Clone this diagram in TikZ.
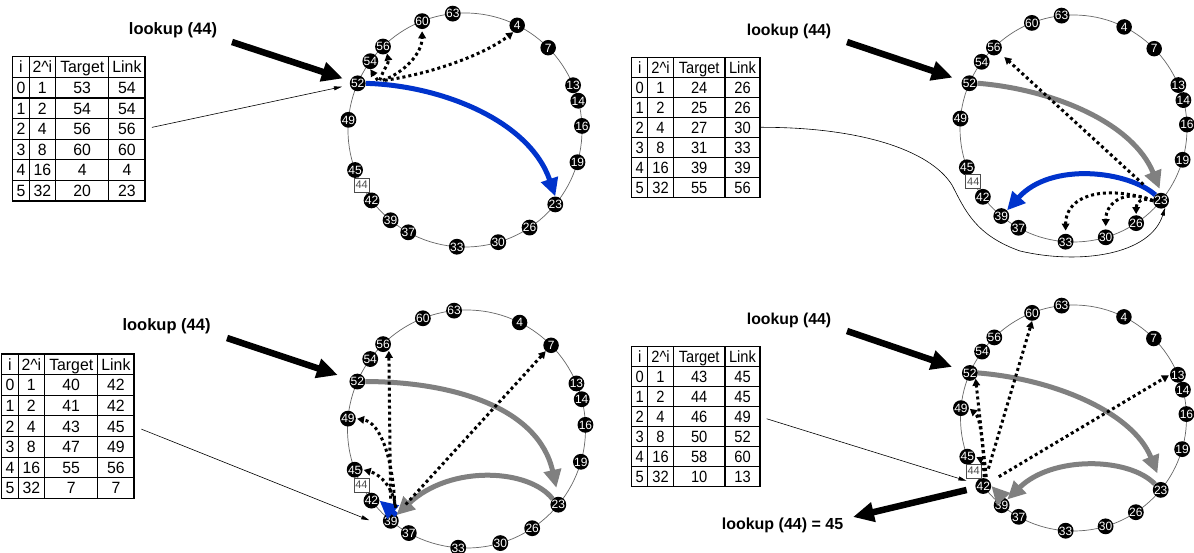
\documentclass[tikz,border=0pt]{standalone}
\usepackage{fontspec}
\setmainfont{Liberation Sans}
\newfontfamily\tabwide[FakeStretch=0.97]{Liberation Sans}
\newfontfamily\tabnarrow[FakeStretch=0.9]{Liberation Sans}
\usetikzlibrary{arrows.meta,calc}
\definecolor{hopblue}{RGB}{0,51,204}
\definecolor{hopgray}{RGB}{128,128,128}
\newcommand\fsz[1]{\fontsize{#1}{#1}\selectfont}

\tikzset{
  ringline/.style={draw=black!60, line width=0.7pt},
  peer/.style={circle, fill=black, inner sep=0pt, minimum size=15.5pt, text=white,
    font=\fsz{12}, text height=8.6pt, text depth=0pt},
  keybox/.style={draw=black!70, fill=white, text=black!70, inner sep=0pt,
    minimum width=15pt, minimum height=14pt, font=\fsz{11}, line width=0.6pt},
  tabline/.style={line width=1.2pt},
  finger/.style={line width=3pt, dash pattern=on 3pt off 3pt,
    -{Triangle[length=7pt,width=7.5pt]}},
  route/.style={line width=5pt, -{Triangle[length=18pt,width=17pt]}},
  pointer/.style={line width=0.6pt, -{Triangle[length=8pt,width=4pt]}},
  lookup/.style={line width=6.5pt, -{Triangle[length=21pt,width=19pt]}},
  lookuplabel/.style={font=\bfseries\fsz{16.5}, inner sep=0pt},
}

% Chord ring: #1 name prefix, #2/#3 centre, #4 radius
\newcommand\chordring[4]{%
  \draw[ringline] (#2,#3) circle[radius=#4];
  \foreach \id/\ang in {63/96, 60/111.5, 4/63.5, 7/44.7, 13/22.5, 14/14.5, 16/2,
      19/-16, 23/-39.5, 26/-56.5, 30/-73.5, 33/-94, 37/-119, 39/-129.5, 42/-143,
      45/-160, 49/175, 52/156.5, 54/144, 56/134.5}
    \node[peer] (#1\id) at ({#2+#4*cos(\ang)},{#3-#4*sin(\ang)}) {\id};
  \node[keybox] (#1k44) at ({#2+#4*cos(-152)},{#3+#4*sin(152)}) {44};
}

% Finger table: #1 name, #2/#3 top left corner, #4 scale, #5 font command, #6 target/link rows
\newcommand\fingertable[6]{%
  \begin{scope}[shift={(#2,#3)}, scale=#4,
      every node/.style={font=#5\fsz{16.3}, inner sep=0pt, text height=11.7pt, text depth=0pt}]
    \draw[tabline] (0,0) rectangle (128.3,140);
    \foreach \cx in {16,41.6,93.3} \draw[tabline] (\cx,0) -- (\cx,140);
    \foreach \ry in {20,40,60,80,100,120} \draw[tabline] (0,\ry) -- (128.3,\ry);
    \node (#1-hi) at (8,10) {i};
    \node (#1-hp) at (28.8,10) {2\textasciicircum i};
    \node (#1-ht) at (67.45,10) {Target};
    \node (#1-hl) at (110.8,10) {Link};
    \foreach \tg/\lk [count=\rw from 0] in {#6} {
      \pgfmathtruncatemacro\pw{2^\rw}
      \node (#1-i\rw) at (8,30+20*\rw) {\rw};
      \node (#1-p\rw) at (28.8,30+20*\rw) {\pw};
      \node (#1-t\rw) at (67.45,30+20*\rw) {\tg};
      \node (#1-l\rw) at (110.8,30+20*\rw) {\lk};
    }
    \coordinate (#1-out) at (128.3,70);
  \end{scope}}

\begin{document}
\begin{tikzpicture}[x=1pt,y=-1pt]
\path[fill=white] (0,0) rectangle (1194,553);
\useasboundingbox (0,0) rectangle (1194,553);

% ---------------- step 1: node 52 ----------------
\chordring{a}{465}{130}{117}
\fingertable{a}{12.7}{56.7}{1.031}{\tabwide}{53/54,54/54,56/56,60/60,4/4,20/23}
\node[lookuplabel] (a-lbl) at (173,30) {lookup (44)};
\coordinate (a-src) at (232,42);
\draw[lookup, shorten >=7.6pt] (a-src) -- (a52);
\draw[pointer, shorten <=7pt, shorten >=8pt] (a-out) -- (a52);
\draw[route, hopblue] (a52.east) .. controls +(75,2) and +(-26,-76) .. (a23.north);
\draw[finger] ($(a52)+(20,-3)$) -- (a54.south);
\draw[finger] ($(a52)+(22,-3)$) .. controls +(4,-12) and +(2,10) .. (a56.-60);
\draw[finger, shorten >=2pt] ($(a52)+(25,-3)$) .. controls +(22,-8) and +(0,24) .. (a60.south);
\draw[finger] ($(a52)+(27,-3)$) .. controls +(55,-8) and +(-24,19) .. (a4.-120);

% ---------------- step 2: node 23 ----------------
\chordring{b}{1073.5}{128.5}{113.5}
\fingertable{b}{631.7}{57.3}{1}{\tabnarrow}{24/26,25/26,27/30,31/33,39/39,55/56}
\node[lookuplabel, font=\bfseries\fsz{15.8}] (b-lbl) at (789,31) {lookup (44)};
\coordinate (b-src) at (847,42);
\draw[lookup, shorten >=9.6pt] (b-src) -- (b52);
\draw[pointer] (b-out) .. controls (860,127) and (930,150) .. (952,185)
  .. controls (965,210) and (975,235) .. (1020,251)
  .. controls (1080,265) and (1150,255) .. (b23.-60);
\draw[route, hopgray, shorten >=4pt] (b52.east) .. controls +(75,6) and +(-28,-70) .. (b23.north);
\draw[route, hopblue] (b23.north west) .. controls +(-27,-24) and +(44,-49) .. (b39.north east);
\draw[finger, shorten <=16pt, shorten >=6pt] (b23) -- (b56);
\draw[finger, shorten >=1pt] (b23.west) .. controls +(-12,-4) and +(0,-12) .. (b26.north);
\draw[finger, shorten >=3pt] (b23.west) .. controls +(-26,-12) and +(0,-28) .. (b30.north);
\draw[finger, shorten >=3pt] (b23.west) .. controls +(-45,-16) and +(0,-40) .. (b33.north);

% ---------------- step 3: node 39 ----------------
\chordring{c}{466.5}{429}{119}
\fingertable{c}{1.7}{354}{1.031}{\tabwide}{40/42,41/42,43/45,47/49,55/56,7/7}
\node[lookuplabel] (c-lbl) at (166.5,326) {lookup (44)};
\coordinate (c-src) at (227,338);
\draw[lookup, shorten >=12.5pt] (c-src) -- (c52);
\draw[pointer, shorten <=8pt, shorten >=17pt] (c-out) -- (c39.south west);
\draw[route, hopgray, shorten >=9pt] (c52.east) .. controls +(85,0) and +(-20,-90) .. (c23.north);
\draw[route, hopblue] (c39.north east) -- (c42.east);
\draw[route, hopgray] (c23.north west) .. controls +(-23,-30) and +(54,-51) .. (c39.north east);
\draw[finger, shorten >=1pt] ($(c39)+(5,-13)$) .. controls +(-2,-18) and +(19,5) .. (c45.east);
\draw[finger, shorten >=1pt] ($(c39)+(4,-16)$) .. controls +(-2,-45) and +(25,4) .. (c49.east);
\draw[finger, shorten <=14pt, shorten >=1pt] (c39) -- (c56.south east);
\draw[finger, shorten <=14pt] (c39) -- (c7);

% ---------------- step 4: node 42 ----------------
\chordring{d}{1073.5}{418}{113}
\fingertable{d}{631.7}{346.7}{1}{\tabnarrow}{43/45,44/45,46/49,50/52,58/60,10/13}
\node[lookuplabel, font=\bfseries\fsz{15.8}] (d-lbl) at (789,320) {lookup (44)};
\coordinate (d-src) at (847,331);
\draw[lookup, shorten >=10.7pt] (d-src) -- (d52);
\draw[pointer, shorten <=7pt, shorten >=9.5pt] (d-out) -- (d42);
\draw[route, hopgray, shorten >=9pt] (d52.east) .. controls +(75,6) and +(-28,-70) .. (d23.north);
\draw[route, hopgray] (d23.north west) .. controls +(-26,-27) and +(45,-44) .. (d39.north east);
\draw[route, hopgray] (d39.north) -- (d42.east);
\draw[finger, shorten >=1pt] ($(d42)+(1,-9)$) .. controls +(0,-10) and +(6,3) .. (d45.east);
\draw[finger, shorten >=1pt] ($(d42)+(2,-9)$) .. controls +(-3,-35) and +(12,10) .. (d49.east);
\draw[finger] ($(d42)+(3,-9)$) -- (d52.south east);
\draw[finger, shorten <=10pt] (d42) -- (d60.south);
\draw[finger, shorten <=10pt, shorten >=1pt] (d42) -- (d13.west);
\node[lookuplabel, font=\bfseries\fsz{16}] (d-res) at (782.5,525) {lookup (44) = 45};
\coordinate (d-restip) at (853,517);
\draw[lookup, shorten <=9pt] (d42) -- (d-restip);
\end{tikzpicture}
\end{document}
